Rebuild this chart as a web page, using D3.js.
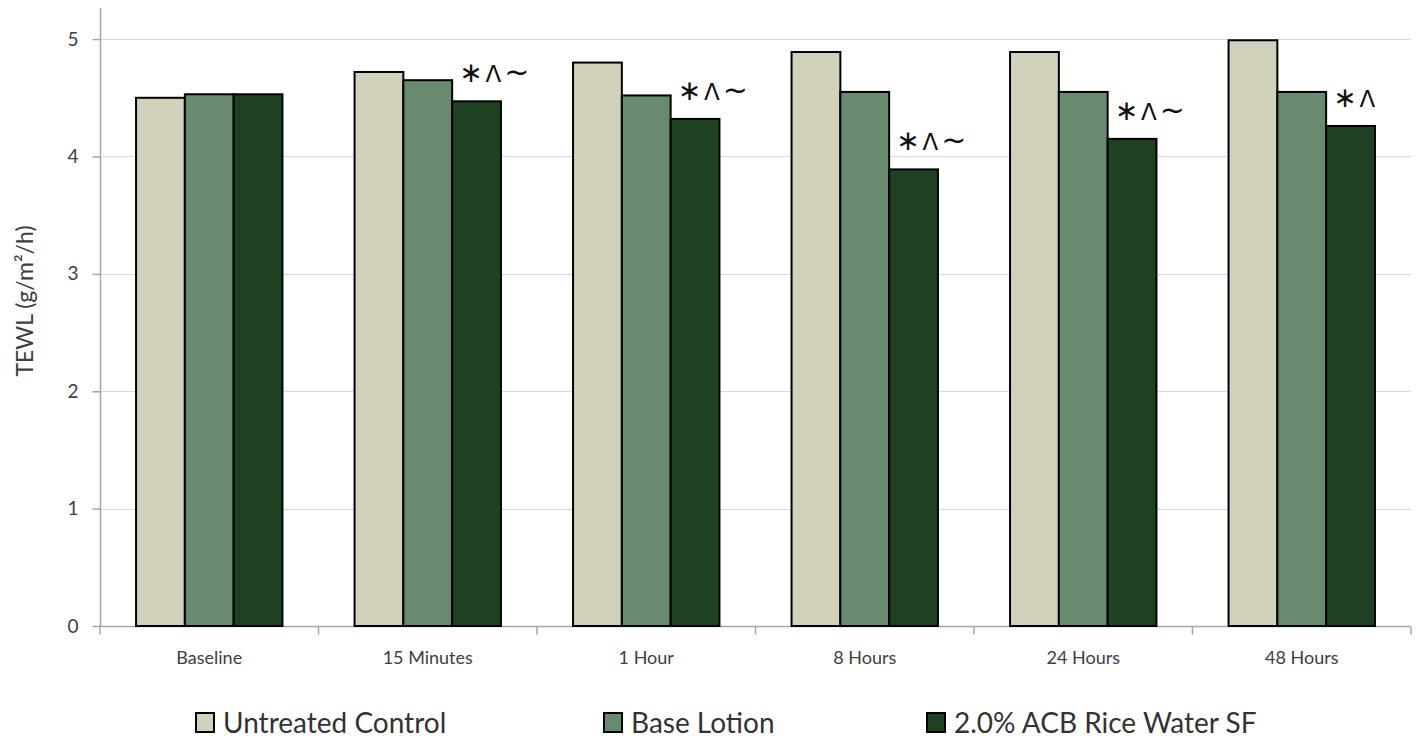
<!DOCTYPE html>
<html>
<head>
<meta charset="utf-8">
<script src="https://cdn.jsdelivr.net/npm/d3@7"></script>
<style>
  html, body { margin: 0; padding: 0; background: #fff; }
  svg { display: block; font-family: Lato, "Open Sans", sans-serif; }
</style>
</head>
<body>
<svg id="chart" width="1421" height="740"></svg>
<script>
// Time points along the x axis
const timepoints = ["Baseline", "15 Minutes", "1 Hour", "8 Hours", "24 Hours", "48 Hours"];

// Treatment groups
const seriesNames = ["Untreated Control", "Base Lotion", "2.0% ACB Rice Water SF"];

// TEWL readings (g/m²/h) for each treatment group
const untreatedControl = [4.50, 4.72, 4.80, 4.89, 4.89, 4.99];
const baseLotion       = [4.53, 4.65, 4.52, 4.55, 4.55, 4.55];
const riceWater        = [4.53, 4.47, 4.32, 3.89, 4.15, 4.26];

// Significance markers shown above the rice water bars
const significance = ["", "*∧~", "*∧~", "*∧~", "*∧~", "*∧"];

const yTicks = [0, 1, 2, 3, 4, 5];

const colors = ["#D2D1BB", "#688B70", "#1E4121"];
const seriesValues = [untreatedControl, baseLotion, riceWater];

const svg = d3.select("#chart");
const margin = { left: 100, right: 10, top: 8, bottom: 114 };
const width = 1421, height = 740;
const plotW = width - margin.left - margin.right;
const plotH = height - margin.top - margin.bottom;

const x0 = d3.scaleBand()
  .domain(timepoints)
  .range([margin.left, margin.left + plotW])
  .paddingInner(0.33)
  .paddingOuter(0.165);

// full-width band used for axis tick positions between categories
const xCat = d3.scaleBand()
  .domain(timepoints)
  .range([margin.left, margin.left + plotW]);

const x1 = d3.scaleBand()
  .domain(seriesNames)
  .range([0, x0.bandwidth()])
  .padding(0);

const y = d3.scaleLinear()
  .domain([0, 5.265])
  .range([margin.top + plotH, margin.top]);

// horizontal gridlines
svg.append("g")
  .selectAll("line")
  .data(yTicks.filter(d => d > 0))
  .join("line")
  .attr("x1", margin.left)
  .attr("x2", margin.left + plotW)
  .attr("y1", d => Math.round(y(d)) + 0.5)
  .attr("y2", d => Math.round(y(d)) + 0.5)
  .attr("stroke", "#d9d9d9")
  .attr("stroke-width", 1);

// y axis
const yAxis = svg.append("g")
  .attr("transform", `translate(${margin.left + 0.5},0)`)
  .call(d3.axisLeft(y).tickValues(yTicks).tickSize(8).tickPadding(14).tickFormat(d3.format("d")));
yAxis.select(".domain").attr("stroke", "#a6a6a6").attr("stroke-width", 1.5)
  .attr("d", `M0,${margin.top}V${margin.top + plotH}`);
yAxis.selectAll(".tick line").attr("stroke", "#a6a6a6").attr("stroke-width", 1.5);
yAxis.selectAll(".tick text").attr("fill", "#404040").style("font-size", "19px")
  .style("font-family", "Lato, sans-serif");

// x axis with ticks between categories
const xAxisG = svg.append("g")
  .attr("transform", `translate(0,${y(0) + 0.5})`);
xAxisG.append("line")
  .attr("x1", margin.left).attr("x2", margin.left + plotW)
  .attr("stroke", "#a6a6a6").attr("stroke-width", 1.5);
const boundaries = timepoints.map(t => xCat(t)).concat([margin.left + plotW]);
xAxisG.selectAll(".sep")
  .data(boundaries)
  .join("line")
  .attr("class", "sep")
  .attr("x1", d => d).attr("x2", d => d)
  .attr("y1", 0).attr("y2", 8)
  .attr("stroke", "#a6a6a6").attr("stroke-width", 1.5);
xAxisG.selectAll(".lbl")
  .data(timepoints)
  .join("text")
  .attr("class", "lbl")
  .attr("x", d => xCat(d) + xCat.bandwidth() / 2)
  .attr("y", 37)
  .attr("text-anchor", "middle")
  .attr("fill", "#404040")
  .style("font-size", "18px")
  .text(d => d);

// bars
const groups = svg.append("g")
  .selectAll("g")
  .data(timepoints)
  .join("g")
  .attr("transform", d => `translate(${x0(d)},0)`);

groups.selectAll("rect")
  .data((d, i) => seriesNames.map((s, k) => ({ series: s, k, value: seriesValues[k][i] })))
  .join("rect")
  .attr("x", d => x1(d.series))
  .attr("y", d => y(d.value))
  .attr("width", x1.bandwidth())
  .attr("height", d => y(0) - y(d.value))
  .attr("fill", d => colors[d.k])
  .attr("stroke", "#000")
  .attr("stroke-width", 2);

// significance markers: each symbol gets its own glyph styling
const glyphStyle = {
  "*": { ch: "∗", size: 28 },
  "∧": { ch: "Λ", size: 23 },
  "~": { ch: "~", size: 30 }
};
const sig = svg.append("g")
  .selectAll("text")
  .data(timepoints)
  .join("text")
  .attr("x", d => x0(d) + x1(seriesNames[2]) + 7)
  .attr("y", (d, i) => y(riceWater[i]) - 19)
  .attr("fill", "#111")
  .style("font-family", "'DejaVu Sans', sans-serif");
sig.selectAll("tspan")
  .data((d, i) => Array.from(significance[i]))
  .join("tspan")
  .attr("dx", (c, j) => j === 0 ? 0 : 3)
  .attr("font-size", c => glyphStyle[c].size)
  .text(c => glyphStyle[c].ch);

// y axis title
svg.append("text")
  .attr("transform", `translate(33,${margin.top + plotH / 2 - 16}) rotate(-90)`)
  .attr("text-anchor", "middle")
  .attr("fill", "#404040")
  .style("font-size", "23px")
  .text("TEWL (g/m²/h)");

// legend
const legendX = [196, 604, 927];
const legend = svg.append("g")
  .selectAll("g")
  .data(seriesNames)
  .join("g")
  .attr("transform", (d, i) => `translate(${legendX[i]},713)`);
legend.append("rect")
  .attr("width", 18).attr("height", 19)
  .attr("fill", (d, i) => colors[i])
  .attr("stroke", "#000").attr("stroke-width", 2);
legend.append("text")
  .attr("x", 27)
  .attr("y", 20)
  .attr("fill", "#333")
  .style("font-size", "28px")
  .text(d => d);
</script>
</body>
</html>
